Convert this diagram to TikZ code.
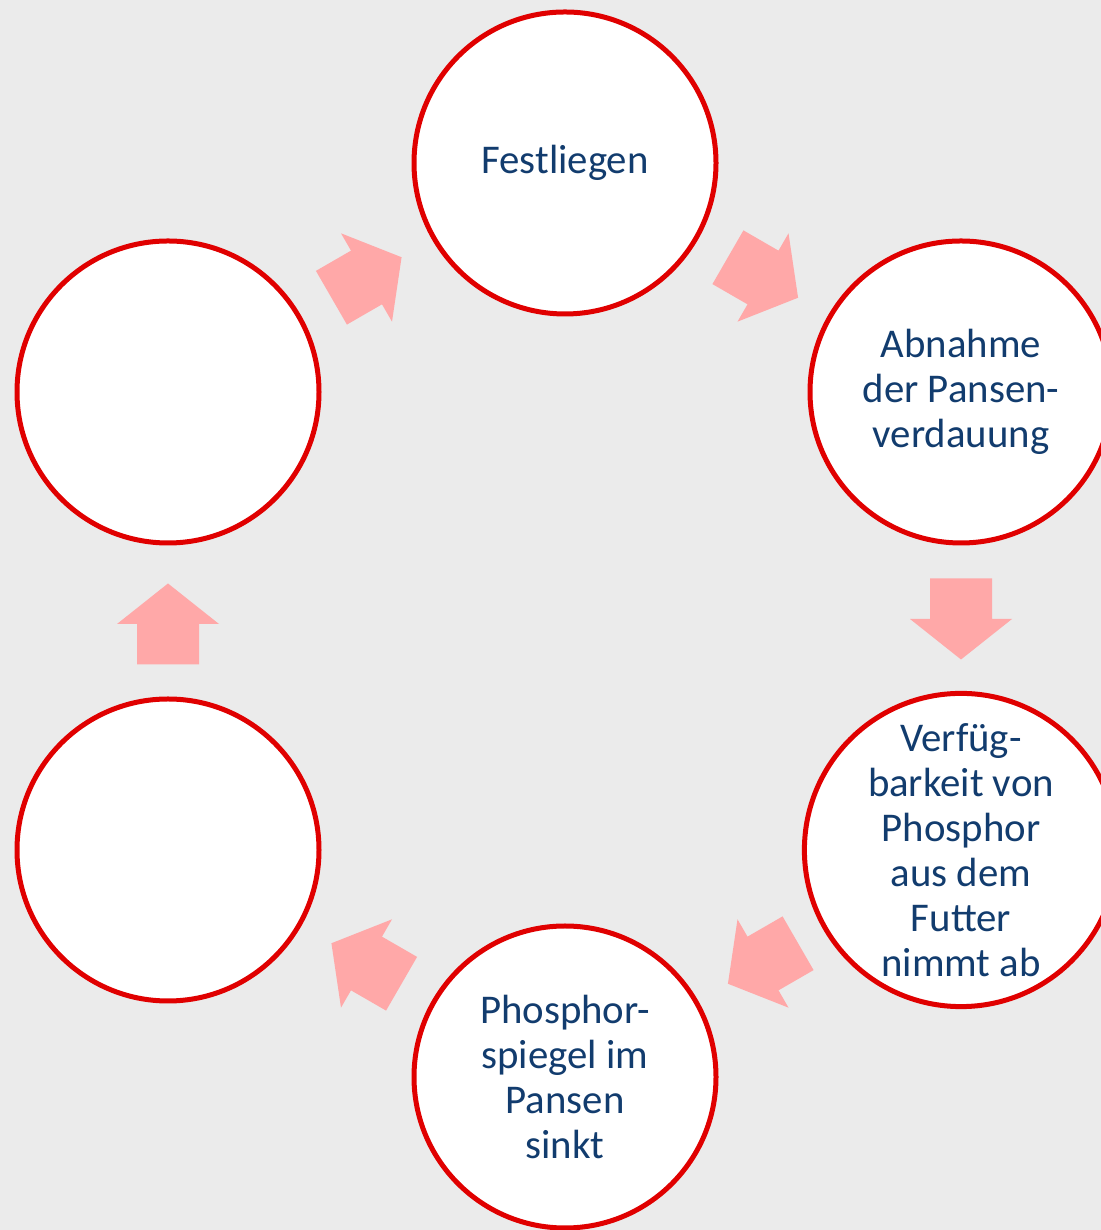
\documentclass[tikz,border=0pt]{standalone}
\usepackage{fontspec}
\setmainfont{Carlito}
\usetikzlibrary{calc}
\definecolor{bggray}{HTML}{EBEBEB}
\definecolor{ringred}{HTML}{E00000}
\definecolor{arrowpink}{HTML}{FFA8A8}
\definecolor{textnavy}{HTML}{123C6E}
\begin{document}
\begin{tikzpicture}[x=0.5pt,y=0.5pt,
  ring/.style={circle,draw=ringred,line width=2.5pt,fill=white,minimum size=151pt,inner sep=0pt,
    text=textnavy,align=center,font=\fontsize{20.4}{22.5}\selectfont},
  blockarrow/.style={fill=arrowpink,draw=none}]
\fill[bggray] (0,0) rectangle (1101,1230);
\useasboundingbox (0,0) rectangle (1101,1230);
\clip (0,0) rectangle (1101,1230);
% circles
\node[ring] (top) at (565,1067) {Festliegen};
\node[ring] (ur) at (961,838) {Abnahme\\der Pansen-\\verdauung};
\node[ring] (lr) at (961,380) {Verfüg-\\barkeit von\\Phosphor\\aus dem\\Futter\\nimmt ab};
\node[ring] (bot) at (565,153) {Phosphor-\\spiegel im\\Pansen\\sinkt};
\node[ring] (ll) at (168,380) {};
\node[ring] (ul) at (168,838) {};
% block arrows between circles
\foreach \a/\b/\ang/\dy in {ul/top/30/0, top/ur/-30/0, ur/lr/-90/2, lr/bot/210/0, bot/ll/150/0, ll/ul/90/-3}{
  \coordinate (m-\a) at ($(\a)!0.5!(\b)+(0,\dy)$);
  \fill[blockarrow, shift={(m-\a)}, rotate=\ang]
    (-40.5,-31) -- (0,-31) -- (0,-51) -- (40.5,0) -- (0,51) -- (0,31) -- (-40.5,31) -- cycle;
}
\end{tikzpicture}
\end{document}
